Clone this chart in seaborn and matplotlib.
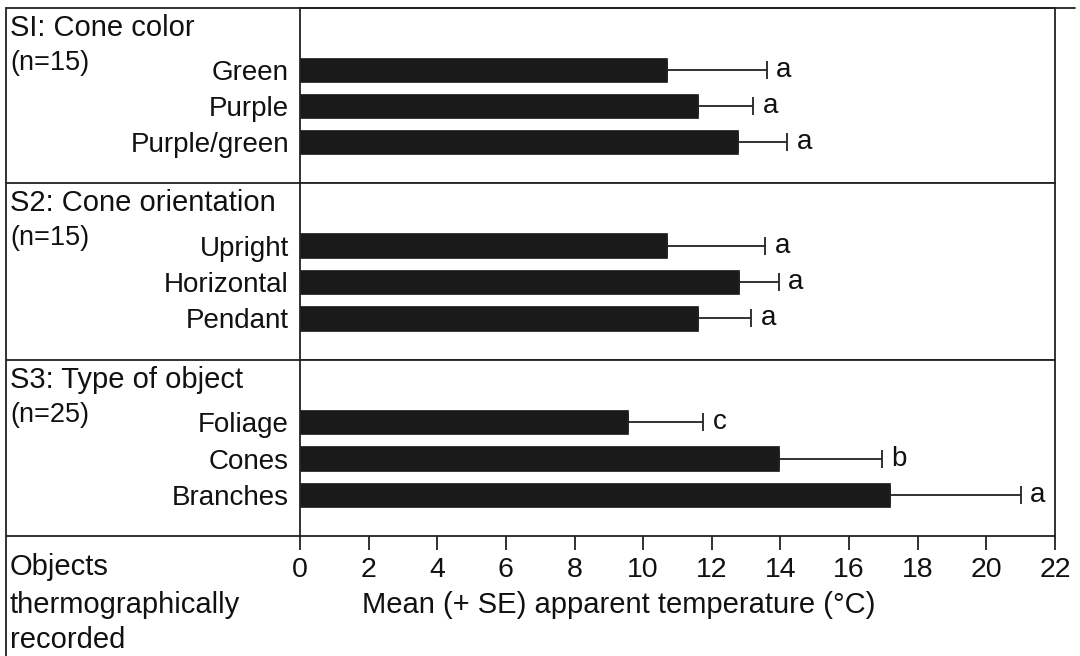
import matplotlib
matplotlib.use("Agg")
import matplotlib.pyplot as plt
from matplotlib.lines import Line2D
import seaborn as sns
import pandas as pd

# ---- data ----
s1_cats = ["Green", "Purple", "Purple/green"]
s1_mean = [10.7, 11.6, 12.75]
s1_se = [2.9, 1.6, 1.45]
s1_sig = ["a", "a", "a"]

s2_cats = ["Upright", "Horizontal", "Pendant"]
s2_mean = [10.7, 12.8, 11.6]
s2_se = [2.85, 1.15, 1.55]
s2_sig = ["a", "a", "a"]

s3_cats = ["Foliage", "Cones", "Branches"]
s3_mean = [9.55, 13.95, 17.2]
s3_se = [2.2, 3.0, 3.8]
s3_sig = ["c", "b", "a"]

panel_titles = ["SI: Cone color", "S2: Cone orientation", "S3: Type of object"]
panel_n = ["(n=15)", "(n=15)", "(n=25)"]
x_ticks = list(range(0, 23, 2))
x_label = "Mean (+ SE) apparent temperature (°C)"
row_label = ["Objects", "thermographically", "recorded"]

sns.set_theme(style="white")
plt.rcParams["font.family"] = ["Liberation Sans", "DejaVu Sans"]

W, H = 1080, 656
fig = plt.figure(figsize=(W / 100, H / 100), dpi=100)
fig.patch.set_facecolor("white")

def fx(px):
    return px / W

def fy(py):
    return 1 - py / H

LC = "#222222"
TC = "#111111"
LW = 1.3
BAR = "#1a1a1a"
FS_CAT = 20
FS_T = 21
FS_N = 19.5
FS_TICK = 20.5

x_left, x_right = 300, 1055
rows = [(8, 183), (183, 360), (360, 536)]
panels = [(s1_cats, s1_mean, s1_se, s1_sig),
          (s2_cats, s2_mean, s2_se, s2_sig),
          (s3_cats, s3_mean, s3_se, s3_sig)]

for i, ((top, bot), (cats, mean, se, sig)) in enumerate(zip(rows, panels)):
    ax = fig.add_axes([fx(x_left), fy(bot), fx(x_right) - fx(x_left), (bot - top) / H])
    df = pd.DataFrame({"cat": cats, "mean": mean})
    sns.barplot(data=df, x="mean", y="cat", orient="h", color=BAR, width=0.67,
                saturation=1, ax=ax, errorbar=None)
    for p in ax.patches:
        p.set_edgecolor(BAR)
        p.set_linewidth(0.5)
    pos = list(range(len(cats)))
    ax.errorbar(mean, pos, xerr=[[0] * len(se), se], fmt="none", ecolor=LC,
                elinewidth=LW, capsize=6.5, capthick=LW)
    for m, s, p, t in zip(mean, se, pos, sig):
        ax.text(m + s + 0.28, p, t, va="center", ha="left", fontsize=FS_CAT, color=TC)
    ax.set_xlim(0, 22)
    ax.set_ylim(3.14, -1.72)
    ax.set_ylabel("")
    ax.set_xlabel("")
    ax.tick_params(axis="y", length=0, pad=8, labelsize=FS_CAT, labelcolor=TC)
    for sp in ax.spines.values():
        sp.set_visible(True)
        sp.set_color(LC)
        sp.set_linewidth(LW)
    if i < 2:
        ax.set_xticks([])
    else:
        ax.set_xticks(x_ticks)
        ax.set_xticklabels([str(t) for t in x_ticks])
        ax.tick_params(axis="x", direction="out", length=10, width=LW, color=LC,
                       pad=5, labelsize=FS_TICK, labelcolor=TC, bottom=True)
        ax.set_xlabel(x_label, fontsize=FS_T, color=TC)
        ax.xaxis.set_label_coords((619 - x_left) / (x_right - x_left), -0.31)

    fig.text(fx(10), fy(top + 20), panel_titles[i], ha="left", va="center",
             fontsize=FS_T, color=TC)
    fig.text(fx(10), fy(top + 55), panel_n[i], ha="left", va="center",
             fontsize=FS_N, color=TC)

# ---- table frame lines ----
def hline(y, x0, x1):
    fig.add_artist(Line2D([fx(x0), fx(x1)], [fy(y), fy(y)], color=LC, lw=LW))

def vline(x, y0, y1):
    fig.add_artist(Line2D([fx(x), fx(x)], [fy(y0), fy(y1)], color=LC, lw=LW))

hline(8, 6, 1075)
for (top, bot) in rows:
    hline(bot, 6, x_left)
vline(6, 8, 656)

for txt, yc in zip(row_label, [567, 605, 640]):
    fig.text(fx(10), fy(yc), txt, ha="left", va="center", fontsize=FS_T, color=TC)

fig.savefig("out.png", dpi=100, facecolor="white")
